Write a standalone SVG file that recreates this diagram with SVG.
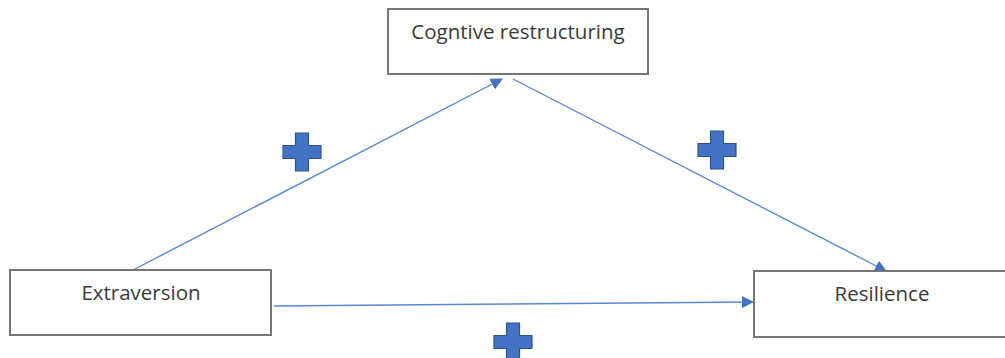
<svg xmlns="http://www.w3.org/2000/svg" width="1005" height="358" viewBox="0 0 1005 358">
<defs>
<style>
.box{fill:#ffffff;stroke:#767676;stroke-width:2}
.lbl{font-family:"Open Sans","Liberation Sans",sans-serif;font-size:20.5px;fill:#3a3a3a;text-anchor:middle}
.con{stroke:#5a87d2;stroke-width:1.4;fill:none}
.plus{fill:#4472c4;stroke:#2f528f;stroke-width:1.2}
</style>
<marker id="ah" markerWidth="12" markerHeight="12" refX="11" refY="6" orient="auto" markerUnits="userSpaceOnUse" viewBox="0 0 12 12">
<path d="M0,0 L12,6 L0,12 z" fill="#4472c4"/>
</marker>
<path id="plusShape" d="M-6.5,-19 H6.5 V-6.5 H19 V6.5 H6.5 V19 H-6.5 V6.5 H-19 V-6.5 H-6.5 Z"/>
</defs>
<rect width="1005" height="358" fill="#ffffff"/>
<g id="connectors">
<line class="con" x1="133" y1="270" x2="502" y2="79" marker-end="url(#ah)"/>
<line class="con" x1="513" y1="79" x2="886" y2="271" marker-end="url(#ah)"/>
<line class="con" x1="274" y1="306" x2="753" y2="302" marker-end="url(#ah)"/>
</g>
<g id="node-cognitive">
<rect class="box" x="388" y="9" width="260" height="65"/>
<text class="lbl" x="518" y="39">Cogntive restructuring</text>
</g>
<g id="node-extraversion">
<rect class="box" x="10" y="270" width="261" height="65"/>
<text class="lbl" x="141" y="300">Extraversion</text>
</g>
<g id="node-resilience">
<rect class="box" x="754" y="271" width="270" height="66"/>
<text class="lbl" x="882" y="301">Resilience</text>
</g>
<g id="plus-signs">
<use href="#plusShape" class="plus" transform="translate(302,152)"/>
<use href="#plusShape" class="plus" transform="translate(717,150)"/>
<use href="#plusShape" class="plus" transform="translate(513,342)"/>
</g>
</svg>
